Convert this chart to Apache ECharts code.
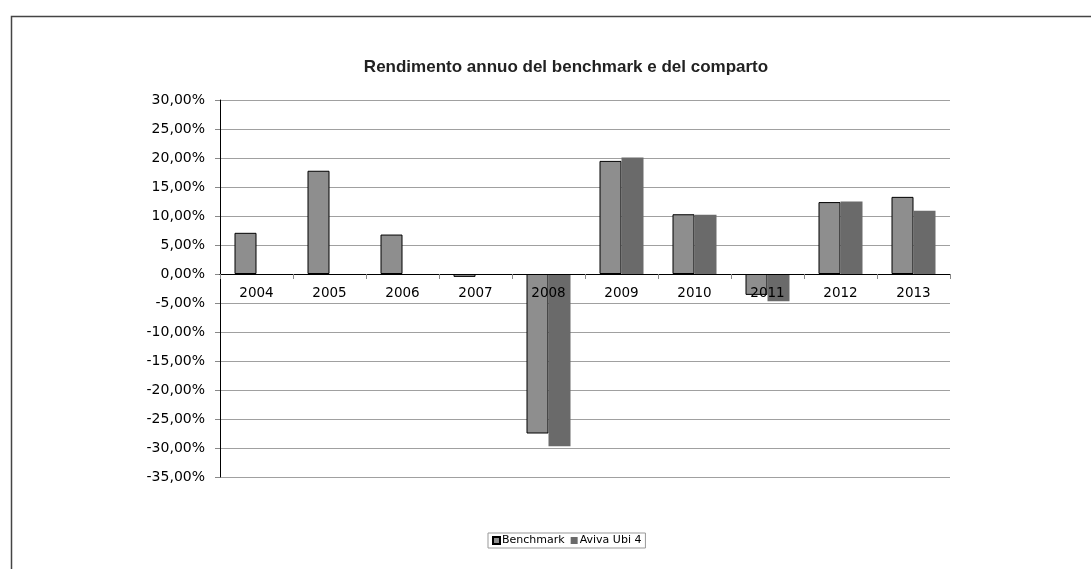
<!DOCTYPE html>
<html>
<head>
<meta charset="utf-8">
<script src="https://cdn.jsdelivr.net/npm/echarts@6/dist/echarts.min.js"></script>
<style>
html,body{margin:0;padding:0;background:#fff;}
#chart{width:1091px;height:569px;}
</style>
</head>
<body>
<div id="chart"></div>
<script>
const titleText = 'Rendimento annuo del benchmark e del comparto';
const years = ['2004','2005','2006','2007','2008','2009','2010','2011','2012','2013'];
const benchmark = [7.1, 17.8, 6.8, -0.5, -27.5, 19.5, 10.3, -3.6, 12.4, 13.3];
const aviva = [null, null, null, null, -29.7, 20.1, 10.2, -4.7, 12.5, 10.9];
const seriesNames = ['Benchmark', 'Aviva Ubi 4'];
const yMin = -35, yMax = 30, yStep = 5;

const gridTop = 100, gridBottom = 92, chartH = 569;
const plotH = chartH - gridTop - gridBottom;
// shift the category axis up so that it sits on the zero line
const zeroOffset = -plotH * (0 - yMin) / (yMax - yMin);

const chart = echarts.init(document.getElementById('chart'), null, {renderer: 'canvas'});
chart.setOption({
  animation: false,
  backgroundColor: '#fff',
  title: {
    text: titleText,
    left: 561, top: 54, textAlign: 'center',
    textStyle: {fontFamily: 'Liberation Sans, Arial, sans-serif', fontSize: 17, fontWeight: 'bold', color: '#222'}
  },
  graphic: [{
    type: 'rect', left: 9, top: 14, silent: true,
    shape: {width: 1200, height: 700},
    style: {fill: 'none', stroke: '#444', lineWidth: 1.5}
  }],
  legend: {
    data: seriesNames,
    left: 488, top: 533,
    padding: [2, 4, 2, 4],
    itemWidth: 7, itemHeight: 7, itemGap: 6,
    borderColor: '#999', borderWidth: 1,
    textStyle: {fontFamily: 'DejaVu Sans, Verdana, sans-serif', fontSize: 11, color: '#000', padding: [0,0,0,-3]},
    icon: 'rect'
  },
  grid: {left: 220, right: 141, top: gridTop, bottom: gridBottom, containLabel: false},
  xAxis: {
    type: 'category', data: years,
    offset: zeroOffset,
    z: 10,
    axisLine: {onZero: false, lineStyle: {color: '#000', width: 1}},
    axisTick: {show: true, alignWithLabel: false, length: 5, inside: false, lineStyle: {color: '#888'}},
    axisLabel: {margin: 12, fontFamily: 'DejaVu Sans, Verdana, sans-serif', fontSize: 13.5, color: '#000', hideOverlap: false},
    splitLine: {show: false}
  },
  yAxis: {
    type: 'value', min: yMin, max: yMax, interval: yStep,
    axisLine: {show: true, lineStyle: {color: '#000', width: 1}},
    axisTick: {show: true, length: 5, lineStyle: {color: '#888'}},
    axisLabel: {
      margin: 15, fontFamily: 'DejaVu Sans, Verdana, sans-serif', fontSize: 14, color: '#000',
      formatter: v => v.toFixed(2).replace('.', ',') + '%'
    },
    splitLine: {show: true, lineStyle: {color: '#a0a0a0', width: 1}}
  },
  series: [
    {
      name: seriesNames[0], type: 'bar', data: benchmark,
      barWidth: 22, barGap: '0%',
      itemStyle: {color: '#8e8e8e', borderColor: '#000', borderWidth: 1}
    },
    {
      name: seriesNames[1], type: 'bar', data: aviva,
      barWidth: 22, barGap: '0%',
      itemStyle: {color: '#6a6a6a'}
    }
  ]
});
</script>
</body>
</html>
